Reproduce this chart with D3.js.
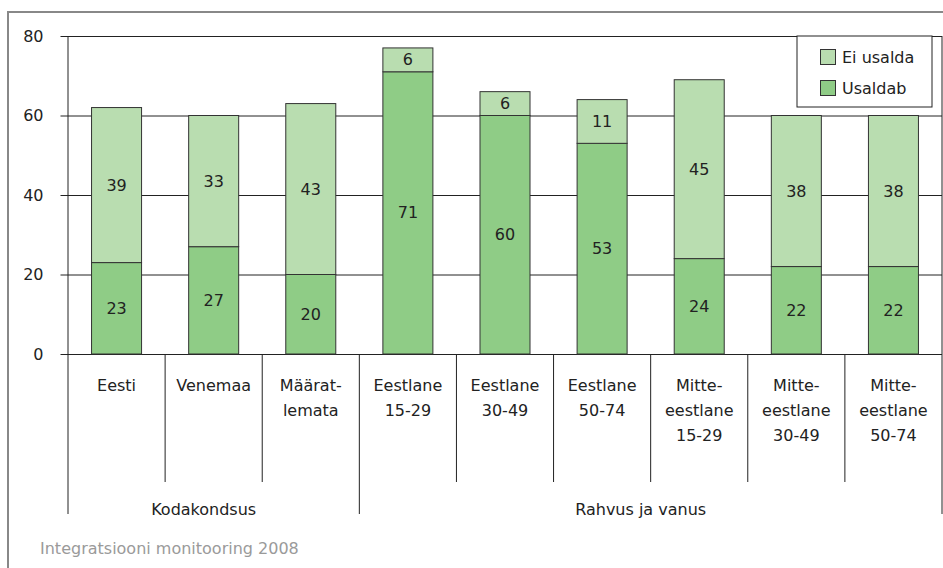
<!DOCTYPE html>
<html>
<head>
<meta charset="utf-8">
<script src="https://cdn.jsdelivr.net/npm/d3@7"></script>
<style>
  html, body { margin: 0; padding: 0; background: #fff; }
  svg { display: block; font-family: "DejaVu Sans", sans-serif; }
</style>
</head>
<body>
<svg id="chart" width="943" height="568"></svg>
<script>
// Category labels (split into lines as printed under the axis)
const categories = [
  ["Eesti"], ["Venemaa"], ["Määrat-", "lemata"],
  ["Eestlane", "15-29"], ["Eestlane", "30-49"], ["Eestlane", "50-74"],
  ["Mitte-", "eestlane", "15-29"], ["Mitte-", "eestlane", "30-49"], ["Mitte-", "eestlane", "50-74"]
];
const usaldab = [23, 27, 20, 71, 60, 53, 24, 22, 22];
const eiUsalda = [39, 33, 43, 6, 6, 11, 45, 38, 38];
const groups = [
  { name: "Kodakondsus", from: 0, to: 3 },
  { name: "Rahvus ja vanus", from: 3, to: 9 }
];
const yTicks = [0, 20, 40, 60, 80];
const seriesNames = ["Ei usalda", "Usaldab"];
const source = "Integratsiooni monitooring 2008";

const colLight = "#b9ddb0";
const colDark = "#8fcc86";
const ink = "#222";
const fs = "16px";

const svg = d3.select("#chart");
const plotL = 68, plotR = 942, plotT = 36, plotB = 354;

const keys = categories.map((c, i) => i);
const x = d3.scaleBand().domain(keys).range([plotL, plotR]).padding(0);
const barW = x.bandwidth() * 0.515;
const y = d3.scaleLinear().domain([0, 80]).range([plotB, plotT]);

// outer frame
svg.append("rect").attr("x", 8).attr("y", 12).attr("width", 1000).attr("height", 1000)
  .attr("fill", "none").attr("stroke", "#888").attr("stroke-width", 2);

// gridlines and y ticks
const yAxis = d3.axisLeft(y).tickValues(yTicks).tickSize(7.5).tickPadding(17);
const ya = svg.append("g").attr("transform", `translate(${plotL},0)`).call(yAxis);
ya.select(".domain").remove();
ya.selectAll(".tick line").attr("stroke", ink).attr("x2", plotR - plotL).attr("x1", -7.5);
ya.selectAll(".tick text").attr("fill", ink).style("font-size", fs)
  .style("font-family", "DejaVu Sans, sans-serif");

// left axis line and right plot edge
svg.append("line").attr("x1", plotL).attr("x2", plotL).attr("y1", plotT).attr("y2", plotB)
  .attr("stroke", ink).attr("stroke-width", 1);
svg.append("line").attr("x1", plotR).attr("x2", plotR).attr("y1", plotT).attr("y2", plotB)
  .attr("stroke", ink).attr("stroke-width", 1);

// stacked bars
const stackData = keys.map(i => ({ i, usaldab: usaldab[i], ei: eiUsalda[i] }));
const stacked = d3.stack().keys(["usaldab", "ei"])(stackData);
const colors = { usaldab: colDark, ei: colLight };

stacked.forEach(layer => {
  const g = svg.append("g");
  g.selectAll("rect").data(layer).enter().append("rect")
    .attr("x", d => x(d.data.i) + (x.bandwidth() - barW) / 2)
    .attr("y", d => y(d[1]))
    .attr("width", barW)
    .attr("height", d => y(d[0]) - y(d[1]))
    .attr("fill", colors[layer.key])
    .attr("stroke", "#333").attr("stroke-width", 1);
  g.selectAll("text").data(layer).enter().append("text")
    .attr("x", d => x(d.data.i) + x.bandwidth() / 2)
    .attr("y", d => (y(d[0]) + y(d[1])) / 2)
    .attr("dy", "0.35em")
    .attr("text-anchor", "middle")
    .attr("fill", ink).style("font-size", fs)
    .text(d => d[1] - d[0]);
});

// category separators below zero
const sepBounds = d3.range(0, categories.length + 1);
const groupEdges = new Set([0, 3, 9]);
svg.append("g").selectAll("line").data(sepBounds).enter().append("line")
  .attr("x1", i => i < categories.length ? x(i) : plotR)
  .attr("x2", i => i < categories.length ? x(i) : plotR)
  .attr("y1", plotB)
  .attr("y2", i => groupEdges.has(i) ? 514 : 482)
  .attr("stroke", ink).attr("stroke-width", 1);

// category labels
const catG = svg.append("g");
categories.forEach((lines, i) => {
  const t = catG.append("text")
    .attr("x", x(i) + x.bandwidth() / 2)
    .attr("y", 391)
    .attr("text-anchor", "middle")
    .attr("fill", ink).style("font-size", fs);
  lines.forEach((ln, k) => {
    t.append("tspan").attr("x", x(i) + x.bandwidth() / 2)
      .attr("dy", k === 0 ? 0 : 25).text(ln);
  });
});

// group labels
groups.forEach(gr => {
  const x0 = x(gr.from);
  const x1 = gr.to < categories.length ? x(gr.to) : plotR;
  svg.append("text")
    .attr("x", (x0 + x1) / 2 - 10)
    .attr("y", 515)
    .attr("text-anchor", "middle")
    .attr("fill", ink).style("font-size", fs)
    .text(gr.name);
});

// legend
const lg = svg.append("g");
lg.append("rect").attr("x", 797).attr("y", 36).attr("width", 135).attr("height", 71)
  .attr("fill", "#fff").attr("stroke", ink).attr("stroke-width", 1);
seriesNames.forEach((name, k) => {
  const yy = 49 + k * 31;
  lg.append("rect").attr("x", 820.5).attr("y", yy + 0.5).attr("width", 15).attr("height", 15)
    .attr("fill", k === 0 ? colLight : colDark).attr("stroke", "#333").attr("stroke-width", 1);
  lg.append("text").attr("x", 842).attr("y", yy + 8).attr("dy", "0.35em")
    .attr("fill", ink).style("font-size", fs).text(name);
});

// source note
svg.append("text").attr("x", 40).attr("y", 554)
  .attr("fill", "#9a9a9a").style("font-size", fs).text(source);
</script>
</body>
</html>
